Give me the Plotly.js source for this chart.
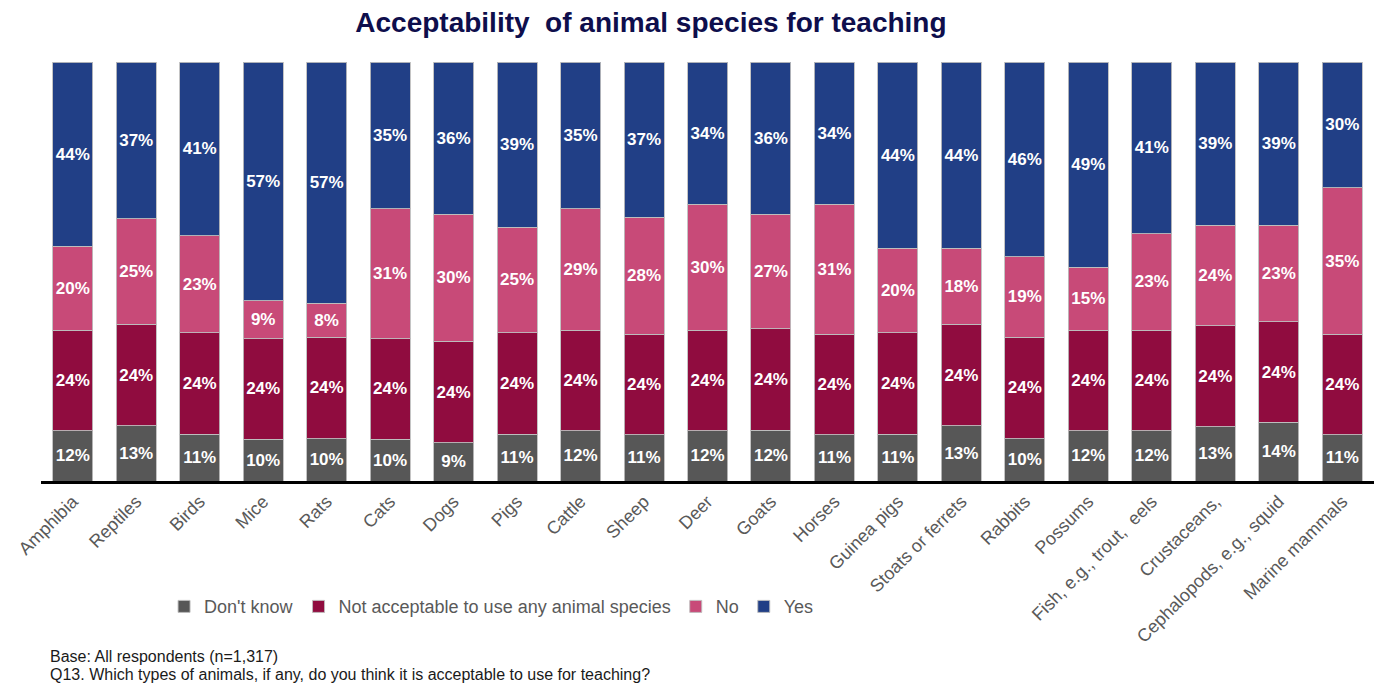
<!DOCTYPE html>
<html>
<head>
<meta charset="utf-8">
<script src="https://cdn.plot.ly/plotly-3.0.1.min.js"></script>
<style>
  html, body { margin: 0; padding: 0; background: #ffffff; }
  #chart { width: 1382px; height: 684px; }
</style>
</head>
<body>
<div id="chart"></div>
<script>
// Animal groups shown along the x axis
const species = [
  "Amphibia", "Reptiles", "Birds", "Mice", "Rats", "Cats", "Dogs", "Pigs",
  "Cattle", "Sheep", "Deer", "Goats", "Horses", "Guinea pigs",
  "Stoats or ferrets", "Rabbits", "Possums", "Fish, e.g., trout,  eels",
  "Crustaceans,", "Cephalopods, e.g., squid", "Marine mammals"
];

// Share of respondents (%) for each answer
const dontKnow      = [12, 13, 11, 10, 10, 10, 9, 11, 12, 11, 12, 12, 11, 11, 13, 10, 12, 12, 13, 14, 11];
const notAcceptable = [24, 24, 24, 24, 24, 24, 24, 24, 24, 24, 24, 24, 24, 24, 24, 24, 24, 24, 24, 24, 24];
const answerNo      = [20, 25, 23, 9, 8, 31, 30, 25, 29, 28, 30, 27, 31, 20, 18, 19, 15, 23, 24, 23, 35];
const answerYes     = [44, 37, 41, 57, 57, 35, 36, 39, 35, 37, 34, 36, 34, 44, 44, 46, 49, 41, 39, 39, 30];

const seriesNames  = ["Don't know", "Not acceptable to use any animal species", "No", "Yes"];
const seriesValues = [dontKnow, notAcceptable, answerNo, answerYes];
const seriesColors = ["#575757", "#900C3F", "#C84A78", "#213F86"];

const traces = seriesValues.map((vals, i) => ({
  type: "bar",
  name: seriesNames[i],
  x: species,
  y: vals,
  text: vals.map(v => v + "%"),
  texttemplate: "%{text}",
  textposition: "inside",
  insidetextanchor: "middle",
  textangle: 0,
  constraintext: "none",
  textfont: { family: "Liberation Sans, Arial, sans-serif", size: 17, color: "#ffffff", weight: "bold" },
  marker: { color: seriesColors[i], line: { color: "rgba(190,190,190,0.9)", width: 1 } },
  hoverinfo: "x+name+text"
}));

const layout = {
  width: 1382,
  height: 684,
  paper_bgcolor: "#ffffff",
  plot_bgcolor: "#ffffff",
  margin: { l: 41, r: 8, t: 62, b: 203 },
  barmode: "stack",
  barnorm: "percent",
  bargap: 0.37,
  title: {
    text: "<b>Acceptability  of animal species for teaching</b>",
    x: 0.471, xanchor: "center",
    y: 0.967, yanchor: "middle",
    font: { family: "Liberation Sans, Arial, sans-serif", size: 28, color: "#0E0E4C" }
  },
  font: { family: "Liberation Sans, Arial, sans-serif", color: "#595959" },
  xaxis: {
    type: "category",
    tickangle: -45,
    tickfont: { size: 18, color: "#595959" },
    showline: true, linecolor: "#000000", linewidth: 3,
    ticks: "", showgrid: false, zeroline: false,
    fixedrange: true
  },
  yaxis: {
    range: [0, 100],
    visible: false,
    showgrid: false, zeroline: false,
    fixedrange: true
  },
  showlegend: true,
  legend: {
    orientation: "h",
    x: 0.338, xanchor: "center",
    y: -0.30, yanchor: "middle",
    font: { size: 18, color: "#595959" },
    traceorder: "normal",
    itemwidth: 30
  },
  annotations: [
    {
      xref: "paper", yref: "paper",
      x: 0.005, y: -0.418, xanchor: "left", yanchor: "middle",
      text: "Base: All respondents (n=1,317)",
      showarrow: false,
      font: { size: 16, color: "#1a1a1a" }
    },
    {
      xref: "paper", yref: "paper",
      x: 0.005, y: -0.463, xanchor: "left", yanchor: "middle",
      text: "Q13. Which types of animals, if any, do you think it is acceptable to use for teaching?",
      showarrow: false,
      font: { size: 16, color: "#1a1a1a" }
    }
  ]
};

Plotly.newPlot("chart", traces, layout, { displayModeBar: false, staticPlot: true });
</script>
</body>
</html>
